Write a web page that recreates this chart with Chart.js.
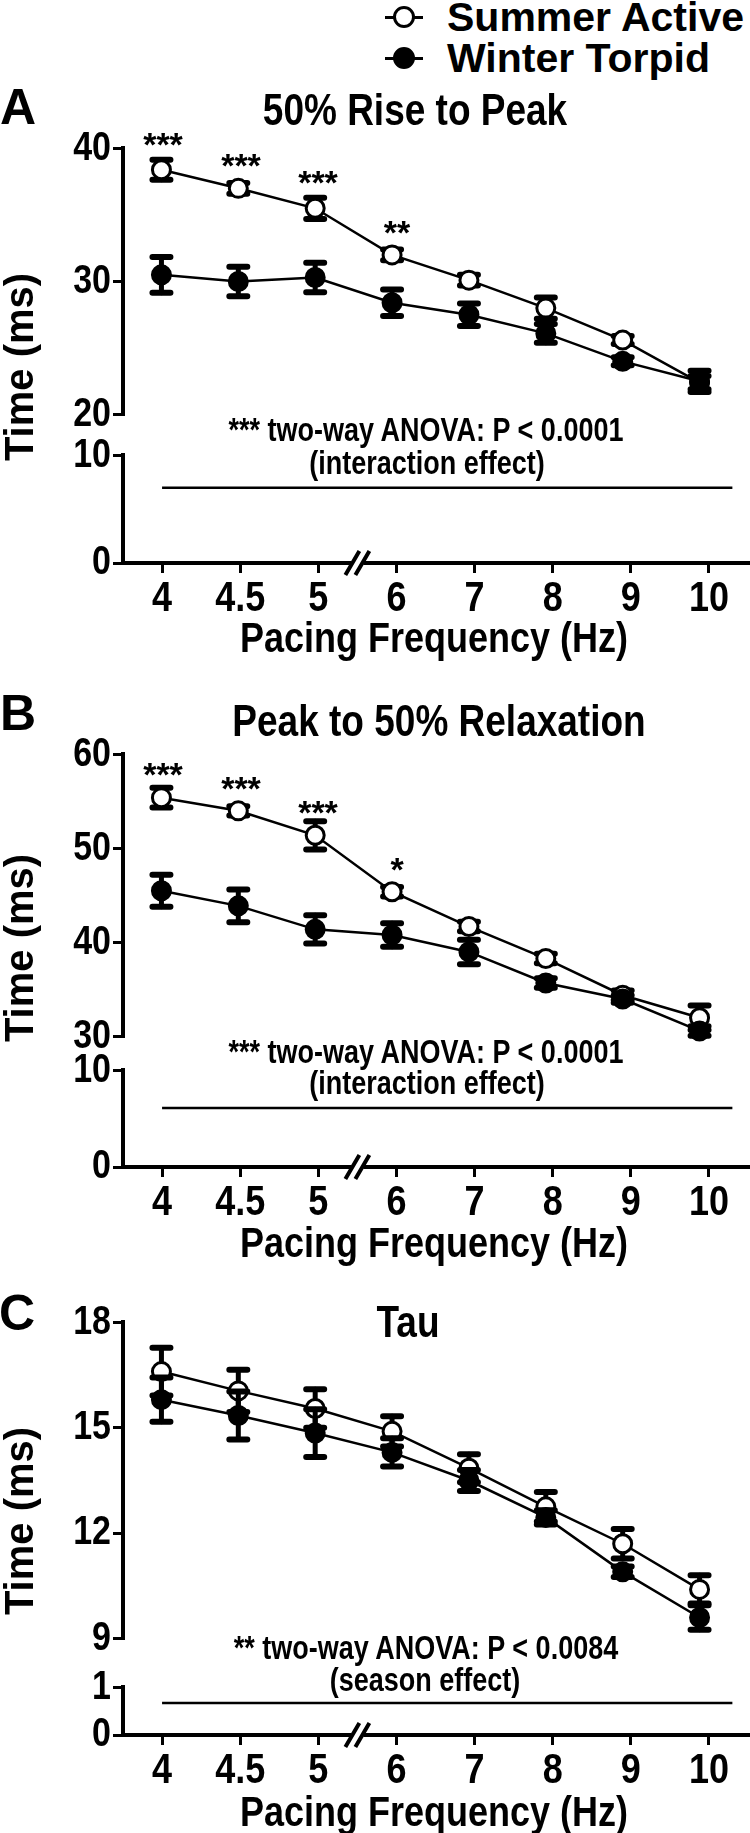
<!DOCTYPE html>
<html>
<head>
<meta charset="utf-8">
<script src="https://cdn.jsdelivr.net/npm/chart.js@4.4.0/dist/chart.umd.min.js"></script>
<style>
body{margin:0;background:#fff;}
#page{position:relative;width:750px;height:1833px;overflow:hidden;font-family:"Liberation Sans",Arial,Helvetica,sans-serif;font-weight:bold;color:#000;}
.box{position:absolute;left:0;width:750px;}
.txt{position:absolute;white-space:nowrap;line-height:1;transform:translateX(-50%);}
.tall{transform:translateX(-50%) scaleY(1.2);}
.leg{position:absolute;}
</style>
</head>
<body>
<div id="page"></div>
<script>
// categories (pacing frequency, Hz)
const freqLabels = ['4','4.5','5','6','7','8','9','10'];

// A: 50% rise to peak (ms), mean and SEM
const riseSummer    = [38.4, 37.0, 35.5, 32.0, 30.1, 28.0, 25.6, 22.4];
const riseSummerSem = [0.75, 0.4, 0.8, 0.4, 0.4, 0.8, 0.3, 0.5];
const riseWinter    = [30.5, 30.0, 30.3, 28.4, 27.5, 26.1, 24.0, 22.5];
const riseWinterSem = [1.35, 1.1, 1.1, 1.0, 0.85, 0.7, 0.3, 0.8];

// B: peak to 50% relaxation (ms)
const relaxSummer    = [55.4, 54.0, 51.4, 45.4, 41.7, 38.3, 34.4, 32.0];
const relaxSummerSem = [1.05, 0.5, 1.5, 0.5, 0.5, 0.5, 0.5, 1.3];
const relaxWinter    = [45.5, 43.9, 41.4, 40.8, 39.0, 35.7, 34.0, 30.6];
const relaxWinterSem = [1.7, 1.75, 1.5, 1.25, 1.3, 0.5, 0.4, 0.5];

// C: tau (ms)
const tauSummer    = [16.6, 16.05, 15.55, 14.9, 13.85, 12.75, 11.7, 10.4];
const tauSummerSem = [0.68, 0.6, 0.55, 0.43, 0.4, 0.42, 0.42, 0.4];
const tauWinter    = [15.8, 15.35, 14.85, 14.3, 13.5, 12.45, 10.9, 9.6];
const tauWinterSem = [0.63, 0.68, 0.68, 0.4, 0.3, 0.2, 0.15, 0.35];

// horizontal line under the ANOVA note (x in category index units)
const anovaLineX = [0, 7.3];
const anovaLineLevel = [7, 6.1, 0.67];

const FONT = '"Liberation Sans", Arial, Helvetica, sans-serif';
const STRETCH = 1.2;   // the figure's lettering is taller than plain Arial
const page = document.getElementById('page');

// error bars drawn under each dataset's own points
const errorBars = {
  id: 'errorBars',
  beforeDatasetDraw(chart, args){
    const ds = chart.data.datasets[args.index];
    if(!ds.sem) return;
    const ctx = chart.ctx, ys = args.meta.yScale;
    ctx.save();
    ctx.strokeStyle = '#000';
    ctx.lineCap = 'round';
    args.meta.data.forEach((pt, i)=>{
      const v = ds.data[i], e = ds.sem[i];
      const yt = ys.getPixelForValue(v + e), yb = ys.getPixelForValue(v - e);
      ctx.lineWidth = 5;
      ctx.beginPath(); ctx.moveTo(pt.x, yt); ctx.lineTo(pt.x, yb); ctx.stroke();
      ctx.lineWidth = 6;
      ctx.beginPath();
      ctx.moveTo(pt.x - 9, yt); ctx.lineTo(pt.x + 9, yt);
      ctx.moveTo(pt.x - 9, yb); ctx.lineTo(pt.x + 9, yb);
      ctx.stroke();
    });
    ctx.restore();
  }
};

// tick labels drawn from the scale's own label items, stretched vertically
const tallTicks = {
  id: 'tallTicks',
  beforeDraw(chart){
    [chart.scales.x, chart.scales.y].forEach(s=>{
      if(s._tallPatched) return;
      s._tallPatched = true;
      s.drawLabels = function(area){
        if(!this.options.display || !this.options.ticks.display) return;
        const ctx = this.ctx;
        this.getLabelItems(area).forEach(item=>{
          const o = item.options;
          ctx.save();
          ctx.translate(o.translation[0], o.translation[1]);
          ctx.scale(1, STRETCH);
          ctx.font = item.font.string;
          ctx.fillStyle = o.color;
          ctx.textAlign = o.textAlign;
          ctx.textBaseline = o.textBaseline;
          ctx.fillText(item.label, 0, item.textOffset || 0);
          ctx.restore();
        });
      };
    });
  }
};

// "//" break on the x axis between 5 and 6 Hz
const axisBreak = {
  id: 'axisBreak',
  afterDraw(chart){
    const xs = chart.scales.x;
    if(!xs.options.display) return;
    const ctx = chart.ctx;
    const cx = (xs.getPixelForValue(2) + xs.getPixelForValue(3)) / 2;
    const y0 = chart.chartArea.bottom;
    ctx.save();
    ctx.fillStyle = '#fff';
    ctx.fillRect(cx - 6, y0 - 4, 12, 8);
    ctx.strokeStyle = '#000';
    ctx.lineWidth = 4;
    ctx.beginPath();
    ctx.moveTo(cx - 12, y0 + 12); ctx.lineTo(cx + 2, y0 - 12);
    ctx.moveTo(cx - 2, y0 + 12); ctx.lineTo(cx + 12, y0 - 12);
    ctx.stroke();
    ctx.restore();
  }
};

function seriesSets(summer, summerSem, winter, winterSem){
  const base = {borderColor:'#000', borderWidth:2.5, pointRadius:9, pointBorderWidth:3,
                pointBorderColor:'#000', clip:false, tension:0};
  return [
    Object.assign({data:summer, sem:summerSem, pointBackgroundColor:'#fff', order:1}, base),
    Object.assign({data:winter, sem:winterSem, pointBackgroundColor:'#000', order:0}, base)
  ];
}

function segment(cfg){
  const padTop = 22;
  const padBottom = cfg.showX ? 0 : 22;
  const xh = cfg.showX ? 62 : 0;
  const h = cfg.bottom - cfg.top + padTop + padBottom + xh;
  const wrap = document.createElement('div');
  wrap.className = 'box';
  wrap.style.top = (cfg.top - padTop) + 'px';
  wrap.style.height = h + 'px';
  const cv = document.createElement('canvas');
  cv.width = 750; cv.height = h;
  wrap.appendChild(cv);
  page.appendChild(wrap);

  new Chart(cv, {
    type: 'line',
    data: {labels: freqLabels, datasets: cfg.datasets},
    options: {
      responsive: false,
      animation: false,
      events: [],
      layout: {padding: {top: padTop, bottom: padBottom, left: 0, right: 2}},
      plugins: {legend: {display: false}, tooltip: {enabled: false}},
      scales: {
        x: {
          type: 'category', offset: true, display: cfg.showX,
          grid: {drawOnChartArea: false, drawTicks: true, tickLength: 10, lineWidth: 3, color: '#000'},
          border: {display: true, width: 4, color: '#000'},
          ticks: {font: {family: FONT, size: 36, weight: 'bold'}, color: '#000', padding: 0,
                  maxRotation: 0, autoSkip: false},
          afterFit: s => { s.height = xh; }
        },
        xl: {type: 'linear', min: -0.5, max: 7.5, display: false},
        y: {
          min: cfg.min, max: cfg.max,
          grid: {drawOnChartArea: false, drawTicks: true, tickLength: 10, lineWidth: 3, color: '#000'},
          border: {display: true, width: 4, color: '#000'},
          ticks: {stepSize: cfg.step, font: {family: FONT, size: 34, weight: 'bold'}, color: '#000', padding: 2},
          afterFit: s => { s.width = 123; }
        }
      }
    },
    plugins: [errorBars, tallTicks, axisBreak]
  });
}

function anovaSet(level){
  return [{
    data: anovaLineX.map(x => ({x: x, y: level})), xAxisID: 'xl',
    borderColor: '#000', borderWidth: 2.5, pointRadius: 0, clip: false
  }];
}

// Panel A
segment({top:148, bottom:415, min:20, max:40, step:10, showX:false,
         datasets: seriesSets(riseSummer, riseSummerSem, riseWinter, riseWinterSem)});
segment({top:455, bottom:563, min:0, max:10, step:10, showX:true, datasets: anovaSet(anovaLineLevel[0])});
// Panel B
segment({top:754, bottom:1037, min:30, max:60, step:10, showX:false,
         datasets: seriesSets(relaxSummer, relaxSummerSem, relaxWinter, relaxWinterSem)});
segment({top:1070, bottom:1167, min:0, max:10, step:10, showX:true, datasets: anovaSet(anovaLineLevel[1])});
// Panel C
segment({top:1322, bottom:1639, min:9, max:18, step:3, showX:false,
         datasets: seriesSets(tauSummer, tauSummerSem, tauWinter, tauWinterSem)});
segment({top:1687, bottom:1735, min:0, max:1, step:1, showX:true, datasets: anovaSet(anovaLineLevel[2])});

// text helpers: cy = vertical centre of capitals
function text(str, cx, cy, size, cls){
  const d = document.createElement('div');
  d.className = 'txt' + (cls ? ' ' + cls : '');
  d.textContent = str;
  d.style.fontSize = size + 'px';
  d.style.left = cx + 'px';
  d.style.top = (cy - 0.49 * size) + 'px';
  page.appendChild(d);
  return d;
}
function stars(str, cx, cy){
  const d = text(str, cx, cy, 34);
  d.style.top = (cy - 0.27 * 34) + 'px';
}
function yTitle(cy){
  const d = text('Time (ms)', 19, cy, 40);
  d.style.top = cy + 'px';
  d.style.transform = 'translate(-50%,-50%) rotate(-90deg)';
}

// legend
function legendRow(label, cy, filled){
  const ln = document.createElement('div');
  ln.className = 'leg';
  Object.assign(ln.style, {left:'385px', top:(cy - 1.5) + 'px', width:'38px', height:'3px', background:'#000'});
  page.appendChild(ln);
  const c = document.createElement('div');
  c.className = 'leg';
  Object.assign(c.style, {left:'393px', top:(cy - 11) + 'px', width:'16px', height:'16px',
    border:'3px solid #000', borderRadius:'50%', background: filled ? '#000' : '#fff'});
  page.appendChild(c);
  const t = text(label, 0, cy, 41);
  t.style.left = '447px';
  t.style.transform = 'none';
}
legendRow('Summer Active', 17, false);
legendRow('Winter Torpid', 58, true);

// panel A
text('A', 18, 106, 50);
text('50% Rise to Peak', 415, 109, 37, 'tall');
yTitle(367);
stars('***', 163, 136); stars('***', 241, 157); stars('***', 318, 174); stars('**', 397, 224);
text('*** two-way ANOVA: P < 0.0001', 426, 430, 27, 'tall');
text('(interaction effect)', 427, 463, 27, 'tall');
text('Pacing Frequency (Hz)', 434, 638, 36, 'tall');

// panel B
text('B', 18, 712, 50);
text('Peak to 50% Relaxation', 439, 721, 37, 'tall');
yTitle(948);
stars('***', 163, 766); stars('***', 241, 780); stars('***', 318, 804); stars('*', 397, 861);
text('*** two-way ANOVA: P < 0.0001', 426, 1052, 27, 'tall');
text('(interaction effect)', 427, 1083, 27, 'tall');
text('Pacing Frequency (Hz)', 434, 1243, 36, 'tall');

// panel C
text('C', 17, 1312, 50);
text('Tau', 408, 1321, 37, 'tall');
yTitle(1521);
text('** two-way ANOVA: P < 0.0084', 426, 1648, 27, 'tall');
text('(season effect)', 425, 1680, 27, 'tall');
text('Pacing Frequency (Hz)', 434, 1812, 36, 'tall');
</script>
</body>
</html>
